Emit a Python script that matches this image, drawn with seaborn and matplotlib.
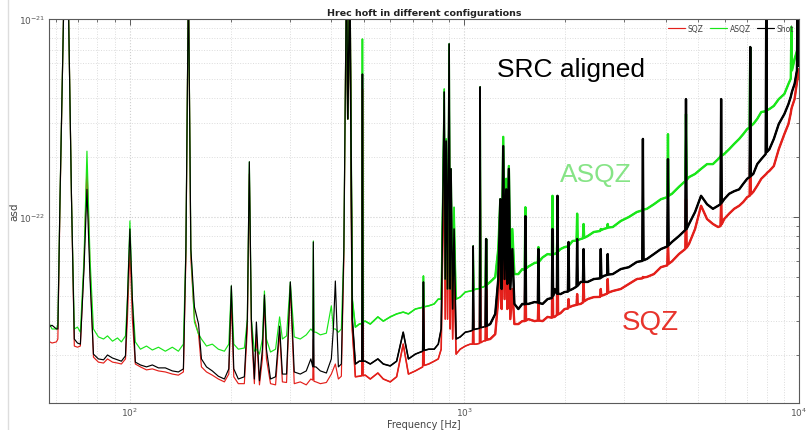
import numpy as np
import pandas as pd
import matplotlib
matplotlib.use("Agg")
import matplotlib.pyplot as plt
import seaborn as sns
from matplotlib.lines import Line2D
from matplotlib.ticker import LogLocator, NullFormatter, FixedLocator

# ---------------- data (asd values in units of 1e-23) ----------------
freq_hz = [57.1, 58.5, 60.3, 60.9, 61.8, 63.3, 64.4, 65.6, 66.9, 68.2,
           69.7, 71.1, 72.9, 74.4, 76.0, 77.8, 80.5, 83.4, 85.7, 88.7,
           91.8, 94.3, 97.0, 98.3, 100.0, 101.7, 103.8, 107.5, 112.1, 116.7,
           121.7, 127.6, 133.9, 139.6, 144.5, 147.0, 149.6, 152.1, 155.9, 160.4,
           163.6, 169.4, 176.3, 183.8, 191.6, 197.5, 201.0, 204.4, 210.9, 219.8,
           224.4, 227.5, 230.7, 235.5, 238.8, 243.9, 248.9, 252.4, 255.9, 263.2,
           272.5, 280.2, 285.6, 293.9, 301.6, 309.9, 323.0, 336.6,
           347.4, 352.0, 353.4, 355.0, 359.8, 370.9, 386.6, 400.0, 405.6, 411.2,
           419.9, 428.6, 436.0, 443.6, 448.0, 454.4, 462.0, 472.0, 485.0, 493.5,
           495.5, 497.5, 505.0, 523.0, 551.0, 572.0, 600.0, 627.0, 656.0, 680.0,
           713.0, 750.0, 754.0, 758.0, 782.0, 812.0, 835.0, 852.0, 870.0, 876.0,
           882.0, 890.0, 900.0, 906.0, 912.0, 922.0, 931.0, 944.0, 971.0, 1006,
           1040, 1057, 1062, 1067, 1084, 1109, 1114, 1119, 1138, 1156,
           1161, 1166, 1194, 1236, 1262, 1280, 1292, 1306, 1318, 1333,
           1343, 1357, 1371, 1390, 1410, 1449, 1489, 1514, 1521, 1528,
           1553, 1620, 1657, 1664, 1671, 1712, 1772, 1825, 1833, 1841,
           1860, 1889, 1897, 1905, 1937, 1992, 2038, 2047, 2056, 2105,
           2163, 2172, 2181, 2225, 2260, 2270, 2280, 2335, 2435, 2544,
           2555, 2566, 2608, 2669, 2680, 2691, 2776, 2933, 3100, 3276,
           3400, 3415, 3430, 3510, 3684, 3866, 4040, 4058, 4076, 4171,
           4376, 4574, 4594, 4614, 4690, 4890, 5096, 5310, 5530, 5730,
           5826, 5851, 5876, 5976, 6183, 6400, 6626, 6811, 7000, 7120,
           7150, 7180, 7300, 7502, 7713, 7950, 7985, 8020, 8157, 8410,
           8700, 9040, 9300, 9450, 9490, 9530, 9700, 9860, 9900, 9940,
           10000]

asd_asqz = [2.95, 2.72, 2.72, 2.88, 12.3, 100, 160, 100, 12.3, 2.72,
            2.78, 2.62, 6.14, 21.5, 6.14, 2.72, 2.48, 2.42, 2.51, 2.36,
            2.45, 2.34, 2.51, 3.85, 9.55, 3.85, 2.34, 2.15, 2.23, 2.13,
            2.20, 2.10, 2.20, 2.10, 2.28, 6.89, 160, 6.89, 2.95, 2.56,
            2.42, 2.23, 2.28, 2.15, 2.10, 2.28, 4.49, 2.28, 2.15, 2.18,
            3.05, 19.0, 3.05, 2.10, 2.15, 2.03, 2.42, 4.23, 2.42, 2.08,
            2.15, 3.13, 2.42, 2.51, 4.70, 2.48, 2.42, 2.54,
            2.72, 2.65, 7.57, 2.62, 2.62, 2.54, 2.59, 3.56, 2.72, 2.72,
            2.62, 2.72, 6.89, 160, 31.3, 160, 3.85, 2.78, 2.88, 2.90,
            79.2, 2.95, 2.98, 2.88, 3.13, 2.98, 3.13, 3.24, 3.31, 3.24,
            3.43, 3.50, 5.04, 3.52, 3.56, 3.64, 3.85, 3.85, 44.3, 4.86,
            24.8, 4.33, 74.8, 4.33, 17.5, 3.85, 11.2, 3.85, 3.94, 4.18,
            4.23, 4.25, 7.14, 4.28, 4.33, 4.35, 45.4, 4.40, 4.43, 4.50,
            7.74, 4.55, 4.70, 4.97, 6.89, 12.3, 5.46, 25.4, 6.14, 15.6,
            4.86, 18.1, 5.46, 8.70, 5.15, 5.15, 5.46, 5.40, 11.2, 5.50,
            5.62, 5.86, 5.90, 7.05, 5.95, 6.25, 6.50, 6.45, 12.8, 6.50,
            6.50, 6.60, 8.40, 6.70, 6.89, 7.05, 7.10, 7.31, 7.20, 7.57,
            7.60, 10.4, 7.65, 7.74, 7.80, 9.22, 7.85, 8.01, 8.40, 8.50,
            8.70, 8.60, 8.70, 8.80, 9.22, 8.85, 8.90, 9.55, 10.0, 10.6,
            10.8, 11.0, 10.9, 11.0, 11.6, 12.3, 12.6, 26.2, 12.8, 13.1,
            14.2, 15.2, 33.1, 15.4, 15.9, 16.5, 17.5, 18.5, 18.5, 19.6,
            20.2, 20.8, 20.4, 20.8, 22.0, 23.4, 24.8, 26.2, 27.8, 28.3,
            71.7, 28.8, 29.5, 31.3, 33.9, 34.2, 34.3, 34.6, 35.1, 36.4,
            39.4, 41.8, 47.0, 50.0, 91.2, 55.0, 62.8, 69.0, 70.5, 72.0,
            79.2]

asd_shot = [2.78, 2.84, 2.72, 2.72, 12.3, 100, 160, 100, 12.3, 2.42,
            2.31, 2.28, 5.46, 13.8, 4.86, 2.03, 1.92, 1.90, 2.01, 1.94,
            1.90, 1.87, 1.99, 3.85, 8.70, 3.85, 1.85, 1.79, 1.75, 1.79,
            1.73, 1.73, 1.67, 1.65, 1.71, 6.89, 160, 6.89, 3.51, 2.88,
            1.92, 1.75, 1.67, 1.57, 1.52, 1.71, 4.49, 1.71, 1.52, 1.56,
            3.05, 19.0, 3.05, 1.52, 2.95, 1.49, 2.15, 4.04, 2.15, 1.52,
            1.56, 2.81, 1.61, 1.61, 4.70, 1.65, 1.61, 1.67,
            1.92, 1.75, 7.48, 1.75, 1.75, 1.67, 1.63, 1.92, 2.72, 4.75,
            1.75, 1.81, 6.89, 160, 31.3, 160, 3.05, 1.81, 1.87, 1.87,
            52.7, 1.87, 1.87, 1.81, 1.92, 1.81, 1.77, 1.87, 2.62, 1.92,
            2.03, 2.10, 4.70, 2.12, 2.15, 2.15, 2.28, 2.72, 42.8, 4.86,
            24.2, 4.33, 74.8, 4.33, 17.5, 3.43, 8.70, 2.42, 2.48, 2.62,
            2.65, 2.68, 7.14, 2.70, 2.72, 2.74, 45.4, 2.76, 2.78, 2.80,
            7.74, 2.82, 2.88, 3.24, 4.86, 12.3, 4.33, 22.8, 4.86, 13.8,
            4.59, 17.5, 4.33, 6.89, 3.64, 3.43, 3.64, 3.62, 10.1, 3.64,
            3.64, 3.72, 3.70, 6.89, 3.68, 3.64, 3.85, 3.90, 8.70, 4.00,
            4.33, 4.10, 12.8, 4.10, 4.08, 4.18, 4.20, 7.48, 4.25, 4.33,
            4.45, 7.74, 4.50, 4.70, 4.70, 6.89, 4.70, 4.70, 4.86, 4.90,
            6.89, 4.95, 5.04, 5.10, 6.50, 5.12, 5.15, 5.46, 5.58, 5.93,
            6.00, 24.8, 6.05, 6.14, 6.50, 6.89, 7.10, 19.6, 7.20, 7.48,
            8.01, 8.60, 39.4, 8.70, 9.22, 10.6, 12.8, 11.6, 11.0, 11.4,
            11.6, 39.4, 11.8, 12.3, 13.1, 13.5, 13.8, 14.7, 15.6, 15.9,
            72.2, 16.1, 16.5, 18.5, 19.6, 20.8, 142, 21.3, 22.0, 24.8,
            29.5, 33.1, 37.2, 40.5, 41.8, 43.0, 47.0, 55.0, 142, 58.0,
            61.4]

asd_sqz = [2.36, 2.31, 2.34, 2.42, 11.6, 100, 160, 100, 12.3, 2.23,
           2.20, 2.23, 5.79, 18.1, 5.46, 1.96, 1.85, 1.83, 1.92, 1.85,
           1.83, 1.81, 1.92, 3.05, 6.89, 3.05, 1.81, 1.75, 1.69, 1.71,
           1.67, 1.65, 1.61, 1.59, 1.65, 6.14, 160, 6.14, 3.05, 2.56,
           1.75, 1.65, 1.59, 1.52, 1.47, 1.61, 3.85, 1.56, 1.44, 1.44,
           2.72, 16.5, 2.72, 1.44, 2.56, 1.42, 1.92, 3.85, 1.92, 1.44,
           1.42, 2.62, 1.47, 1.46, 4.49, 1.44, 1.47, 1.42,
           1.52, 1.50, 2.42, 1.48, 1.47, 1.44, 1.46, 1.61, 1.71, 1.81,
           1.52, 1.57, 6.14, 160, 31.3, 160, 2.72, 1.56, 1.57, 1.58,
           44.3, 1.58, 1.59, 1.52, 1.63, 1.52, 1.47, 1.56, 2.28, 1.61,
           1.67, 1.75, 3.85, 1.78, 1.81, 1.87, 1.92, 2.15, 22.0, 3.05,
           17.5, 3.05, 31.3, 2.72, 8.70, 2.42, 5.46, 2.03, 2.15, 2.23,
           2.28, 2.28, 3.85, 2.28, 2.28, 2.30, 22.0, 2.32, 2.36, 2.38,
           4.33, 2.40, 2.42, 2.56, 3.85, 8.70, 3.43, 14.7, 3.85, 12.3,
           3.43, 8.70, 3.05, 4.33, 2.88, 2.88, 2.98, 2.98, 5.46, 3.00,
           3.05, 2.98, 3.00, 3.85, 3.00, 2.98, 3.13, 3.10, 6.14, 3.12,
           3.13, 3.20, 6.89, 3.22, 3.27, 3.43, 3.45, 3.85, 3.50, 3.56,
           3.60, 4.08, 3.62, 3.64, 3.70, 4.86, 3.75, 3.85, 3.94, 3.95,
           4.33, 4.00, 4.04, 4.10, 4.86, 4.15, 4.23, 4.33, 4.59, 4.86,
           4.90, 4.98, 4.95, 4.98, 5.15, 5.58, 5.70, 7.74, 5.80, 5.97,
           6.50, 6.90, 12.3, 7.00, 7.31, 8.70, 11.4, 9.77, 9.22, 8.90,
           9.00, 12.3, 9.20, 9.77, 10.4, 11.0, 11.4, 11.9, 12.6, 12.8,
           22.0, 13.0, 13.4, 14.4, 15.6, 16.4, 16.5, 16.7, 17.1, 18.1,
           22.0, 26.2, 29.5, 33.5, 35.1, 36.0, 39.4, 48.0, 49.8, 51.5,
           55.9]

series_names = ["SQZ", "ASQZ", "Shot"]
series_colors = ["#e3201b", "#19e619", "#000000"]
x_major_ticks = [100, 1000, 10000]
y_major_ticks = [1e-22, 1e-21]
title_text = "Hrec hoft in different configurations"
x_label = "Frequency [Hz]"
y_label = "asd"
note_texts = ["SRC aligned", "ASQZ", "SQZ"]
note_colors = ["#000000", "#86e486", "#e8342c"]

# ---------------- build table ----------------
unit = 1e-23
df = pd.concat([
    pd.DataFrame({"freq": freq_hz, "asd": np.array(asd_sqz) * unit, "config": "SQZ"}),
    pd.DataFrame({"freq": freq_hz, "asd": np.array(asd_asqz) * unit, "config": "ASQZ"}),
    pd.DataFrame({"freq": freq_hz, "asd": np.array(asd_shot) * unit, "config": "Shot"}),
], ignore_index=True)

sns.set_style("white")
plt.rcParams["font.family"] = ["DejaVu Sans"]

fig = plt.figure(figsize=(8.06, 4.31), dpi=100)
ax = fig.add_axes([48.5 / 806, 27 / 431, 750.5 / 806, 384 / 431])

palette = dict(zip(series_names, series_colors))
sns.lineplot(data=df, x="freq", y="asd", hue="config", hue_order=series_names,
             palette=palette, estimator=None, sort=False, linewidth=0.85,
             ax=ax, legend=True)
# the measured traces get noisier (visually thicker) with frequency
sns.lineplot(data=df[df["freq"] >= 440], x="freq", y="asd", hue="config",
             hue_order=series_names, palette=palette, estimator=None, sort=False,
             linewidth=1.15, ax=ax, legend=False)
sns.lineplot(data=df[df["freq"] >= 1150], x="freq", y="asd", hue="config",
             hue_order=series_names, palette=palette, estimator=None, sort=False,
             linewidth=1.7, ax=ax, legend=False)

ax.set_xscale("log")
ax.set_yscale("log")
ax.set_xlim(57.1, 10000)
ax.set_ylim(1.15e-23, 1e-21)

ax.xaxis.set_major_locator(FixedLocator(x_major_ticks))
ax.yaxis.set_major_locator(FixedLocator(y_major_ticks))
ax.xaxis.set_minor_locator(LogLocator(base=10, subs=np.arange(2, 10)))
ax.yaxis.set_minor_locator(LogLocator(base=10, subs=np.arange(2, 10)))
ax.xaxis.set_minor_formatter(NullFormatter())
ax.yaxis.set_minor_formatter(NullFormatter())

ax.grid(which="major", color="#cfcfcf", linestyle=":", linewidth=0.8)
ax.grid(which="minor", color="#dcdcdc", linestyle=":", linewidth=0.7)
ax.set_axisbelow(True)

for s in ax.spines.values():
    s.set_color("#5a5a5a")
    s.set_linewidth(0.8)
ax.tick_params(which="both", direction="in", top=True, right=True,
               colors="#5a5a5a", labelcolor="#555555", labelsize=6.5, pad=2)
ax.tick_params(which="major", length=4, width=0.7)
ax.tick_params(which="minor", length=2.2, width=0.6)

ax.set_xlabel(x_label, fontsize=7, color="#444444", labelpad=0.5)
ax.set_ylabel(y_label, fontsize=7.5, color="#444444", labelpad=0)
ax.set_title(title_text, fontsize=6.8, fontweight="bold", color="#222222", pad=3)

sns.move_legend(ax, "upper right", bbox_to_anchor=(1.0, 1.0), ncol=3,
                frameon=False, title=None, fontsize=5.5, handlelength=2.2,
                handletextpad=0.4, columnspacing=0.8, borderaxespad=0.25)
for t in ax.get_legend().get_texts():
    t.set_color("#444444")

note_pos = [(0.696, 0.870), (0.7295, 0.596), (0.8015, 0.211)]
note_size = [19, 19, 20]
for txt, col, (px, py), fs in zip(note_texts, note_colors, note_pos, note_size):
    ax.text(px, py, txt, transform=ax.transAxes, ha="center", va="center",
            fontsize=fs, color=col, family=["Liberation Sans", "DejaVu Sans"])

fig.add_artist(Line2D([8 / 806, 8 / 806], [0, 1], color="#dddddd", linewidth=1.0))

fig.savefig("out.png", dpi=100)
